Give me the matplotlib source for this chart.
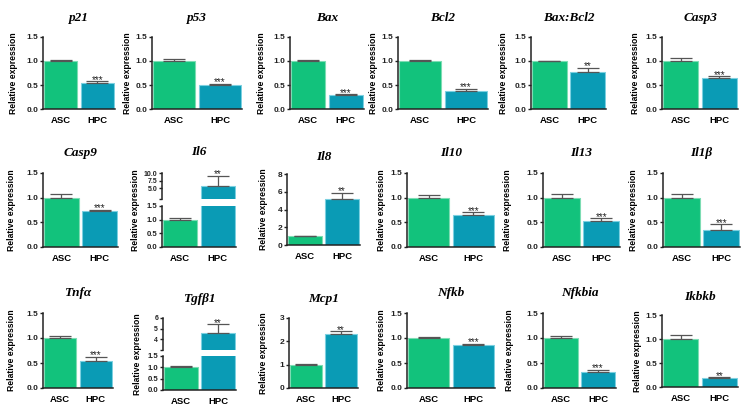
import numpy as np
import matplotlib.pyplot as plt
from matplotlib.ticker import FormatStrFormatter

genes = ['p21', 'p53', 'Bax', 'Bcl2', 'Bax:Bcl2', 'Casp3',
         'Casp9', 'Il6', 'Il8', 'Il10', 'Il13', 'Il1β',
         'Tnfα', 'Tgfβ1', 'Mcp1', 'Nfkb', 'Nfkbia', 'Ikbkb']
groups = ['ASC', 'HPC']
asc_mean = [1.0, 1.0, 1.0, 1.0, 1.0, 1.0,
            1.0, 1.0, 1.0, 1.0, 1.0, 1.0,
            1.0, 1.0, 1.0, 1.0, 1.0, 1.0]
asc_err = [0.03, 0.04, 0.03, 0.03, 0.01, 0.06,
           0.08, 0.05, 0.03, 0.05, 0.07, 0.08,
           0.04, 0.07, 0.04, 0.02, 0.04, 0.08]
hpc_mean = [0.54, 0.49, 0.29, 0.37, 0.78, 0.64,
            0.72, 5.8, 5.2, 0.65, 0.52, 0.35,
            0.55, 4.6, 2.3, 0.86, 0.32, 0.18]
hpc_err = [0.04, 0.03, 0.02, 0.05, 0.08, 0.04,
           0.04, 3.2, 0.7, 0.05, 0.06, 0.11,
           0.08, 0.8, 0.13, 0.03, 0.04, 0.02]
stars = ['***', '***', '***', '***', '**', '***',
         '***', '**', '**', '***', '***', '***',
         '***', '**', '**', '***', '***', '**']

# y axis top for normal panels
y_top = [1.5, 1.5, 1.5, 1.5, 1.5, 1.5,
         1.5, 1.5, 8, 1.5, 1.5, 1.5,
         1.5, 1.5, 3, 1.5, 1.5, 1.5]
# broken panels: upper range, upper ticks
broken = {7: ((1.5, 10.0), [5.0, 7.5, 10.0], '%.1f'),
          13: ((3.0, 6.0), [3, 4, 5, 6], '%d')}

# layout in pixels: left, right, top, bottom, title y, ylabel x
layout = [
    (43, 115, 37, 109, 18, 14), (152, 242, 37, 109, 18, 127),
    (290, 364, 37, 109, 18, 262), (398, 488, 37, 109, 18, 374),
    (531, 606, 37, 109, 18, 504), (662, 738, 37, 109, 18, 635),
    (43, 118, 173, 247, 153, 12), (162, 236, 173, 247, 152, 136),
    (287, 360, 174, 245, 157, 263), (407, 495, 173, 247, 153, 381),
    (543, 620, 173, 247, 153, 508), (663, 740, 173, 247, 153, 633),
    (43, 113, 313, 388, 293, 12), (163, 236, 318, 390, 299, 138),
    (289, 358, 318, 388, 299, 263), (407, 495, 313, 388, 293, 381),
    (543, 616, 313, 388, 293, 510), (662, 738, 315, 387, 297, 637),
]
gap_px = {7: (199, 206), 13: (350, 356)}

W, H = 747, 408
fig = plt.figure(figsize=(W / 100, H / 100), dpi=100)
plt.rcParams['font.family'] = ['Liberation Sans', 'DejaVu Sans']

green = '#12C27C'
teal = '#0A9BB5'
edges = ['#7ddcb3', '#7cd0e0']
x = np.arange(2)
bw = 0.9


def px_axes(l, r, t, b):
    return fig.add_axes([l / W, 1 - b / H, (r - l) / W, (b - t) / H])


def style(ax, bottom=True, fs=6):
    for s in ['top', 'right']:
        ax.spines[s].set_visible(False)
    ax.spines['left'].set_linewidth(1.1)
    ax.spines['bottom'].set_linewidth(1.1)
    ax.spines['left'].set_color('#222222')
    ax.spines['bottom'].set_color('#222222')
    ax.tick_params(axis='y', length=2.5, width=1, pad=1, labelsize=fs, colors='#222222')
    for t in ax.get_yticklabels():
        t.set_fontweight('bold')
    ax.set_xlim(-0.48, 1.48)
    if bottom:
        ax.set_xticks(x)
        ax.set_xticklabels(groups, fontsize=6.8, fontweight='bold')
        ax.tick_params(axis='x', length=0, pad=5)
    else:
        ax.spines['bottom'].set_visible(False)
        ax.set_xticks([])


def draw_bars(ax, idx, which):
    means = [asc_mean[idx], hpc_mean[idx]]
    errs = [asc_err[idx], hpc_err[idx]]
    for i in which:
        ax.bar(x[i], means[i], bw, color=[green, teal][i], edgecolor=edges[i], linewidth=0.8, zorder=2)
        ax.errorbar(x[i], means[i], yerr=[[0], [errs[i]]], fmt='none', ecolor='#555555',
                    elinewidth=0.9, capsize=8, capthick=0.9, zorder=3)


for k, g in enumerate(genes):
    l, r, t, b, ty, yx = layout[k]
    if k in broken:
        (lo, hi), uticks, ufmt = broken[k]
        g0, g1 = gap_px[k]
        up = px_axes(l, r, t, g0)
        dn = px_axes(l, r, g1, b)
        draw_bars(dn, k, [0, 1])
        dn.set_ylim(0, 1.5)
        dn.set_yticks([0, 0.5, 1.0, 1.5])
        dn.yaxis.set_major_formatter(FormatStrFormatter('%.1f'))
        style(dn, True, 5.6)
        draw_bars(up, k, [1])
        up.set_ylim(lo, hi)
        up.set_yticks([lo] + [v for v in uticks if v > lo])
        labs = [''] + [ufmt % v for v in uticks if v > lo]
        up.set_yticklabels(labs)
        style(up, False, 5.0)
        top_ax = up
    else:
        ax = px_axes(l, r, t, b)
        draw_bars(ax, k, [0, 1])
        ax.set_ylim(0, y_top[k])
        if y_top[k] == 1.5:
            ax.set_yticks([0, 0.5, 1.0, 1.5])
            ax.yaxis.set_major_formatter(FormatStrFormatter('%.1f'))
        elif y_top[k] == 8:
            ax.set_yticks([0, 2, 4, 6, 8])
        else:
            ax.set_yticks([0, 1, 2, 3])
        style(ax, True, 6)
        top_ax = ax
    top_ax.annotate(stars[k], (1, hpc_mean[k] + hpc_err[k]), xytext=(0, -2.5),
                    textcoords='offset points', ha='center', va='bottom',
                    fontsize=7, color='#222222', annotation_clip=False)
    fig.text((l + r) / 2 / W, 1 - ty / H, g, ha='center', va='center',
             family=['Liberation Serif', 'DejaVu Serif'], style='italic',
             fontweight='bold', fontsize=9.5)
    fig.text(yx / W, 1 - (t + b) / 2 / H, 'Relative expression', rotation=90,
             ha='center', va='center', fontsize=6.2, fontweight='bold')

fig.savefig('out.png', dpi=100)
